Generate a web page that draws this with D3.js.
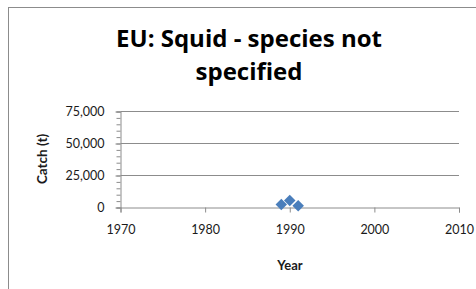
<!DOCTYPE html>
<html>
<head>
<meta charset="utf-8">
<script src="https://cdn.jsdelivr.net/npm/d3@7"></script>
<style>
  body { margin: 0; background: #fff; }
  svg { display: block; }
  text { font-family: Lato, "Open Sans", sans-serif; fill: #1a1a1a; }
  text.title { font-family: "Open Sans", sans-serif; fill: #000; }
</style>
</head>
<body>
<svg id="chart" width="476" height="289"></svg>
<script>
// Chart data
const years = [1989, 1990, 1991];
const catchValues = [2000, 5000, 1000];
const xTicks = [1970, 1980, 1990, 2000, 2010];
const yTicks = [0, 25000, 50000, 75000];
const titleLines = ["EU: Squid - species not", "specified"];

const svg = d3.select("#chart");

// outer frame (runs off the right and bottom edges)
svg.append("rect")
    .attr("x", 8.5).attr("y", 7.5)
    .attr("width", 500).attr("height", 300)
    .attr("fill", "none")
    .attr("stroke", "#8c8c8c")
    .attr("stroke-width", 1);

const x = d3.scaleLinear().domain([1970, 2010]).range([120.5, 459]);
const y = d3.scaleLinear().domain([0, 75000]).range([207, 111]);

// horizontal gridlines
svg.append("g")
    .selectAll("line")
    .data(yTicks.filter(d => d > 0))
    .join("line")
    .attr("x1", x(1970)).attr("x2", x(2010))
    .attr("y1", d => Math.round(y(d)) + 0.5)
    .attr("y2", d => Math.round(y(d)) + 0.5)
    .attr("stroke", "#8c8c8c");

// y axis with minor ticks
const yMinor = d3.range(0, 75001, 5000);
svg.append("g")
    .attr("transform", `translate(${x(1970)},0.5)`)
    .call(d3.axisLeft(y).tickValues(yMinor).tickSize(4).tickFormat(""))
    .call(g => g.select(".domain").attr("stroke", "#8c8c8c"))
    .call(g => g.selectAll(".tick line").attr("stroke", "#8c8c8c"));

svg.append("g")
    .attr("transform", `translate(${x(1970)},0.5)`)
    .call(d3.axisLeft(y).tickValues(yTicks).tickSize(5).tickPadding(11)
        .tickFormat(d3.format(",")))
    .call(g => g.select(".domain").remove())
    .call(g => g.selectAll(".tick line").attr("stroke", "#8c8c8c"))
    .call(g => g.selectAll(".tick text").attr("font-size", 12.5).style("fill", "#1a1a1a"));

// x axis
svg.append("g")
    .attr("transform", `translate(0,${Math.round(y(0)) + 0.5})`)
    .call(d3.axisBottom(x).tickValues(xTicks).tickSize(5).tickPadding(13)
        .tickFormat(d3.format("d")))
    .call(g => g.select(".domain").attr("stroke", "#8c8c8c"))
    .call(g => g.selectAll(".tick line").attr("stroke", "#8c8c8c"))
    .call(g => g.selectAll(".tick text").attr("font-size", 12.5).style("fill", "#1a1a1a"));

// data points (diamonds)
const diamond = d3.symbol().type(d3.symbolDiamond2).size(84);
svg.append("g")
    .selectAll("path")
    .data(years.map((yr, i) => ({ yr, v: catchValues[i] })))
    .join("path")
    .attr("d", diamond)
    .attr("transform", d => `translate(${x(d.yr)},${y(d.v)})`)
    .attr("fill", "#4a7ebb");

// title
svg.append("g")
    .selectAll("text")
    .data(titleLines)
    .join("text")
    .attr("class", "title")
    .attr("x", 249)
    .attr("y", (d, i) => 47 + i * 33)
    .attr("text-anchor", "middle")
    .attr("font-size", 24)
    .attr("font-weight", "bold")
    .text(d => d);

// axis titles
svg.append("text")
    .attr("x", 290).attr("y", 270)
    .attr("text-anchor", "middle")
    .attr("font-size", 13)
    .attr("font-weight", "bold")
    .text("Year");

svg.append("text")
    .attr("transform", "translate(47,159) rotate(-90)")
    .attr("text-anchor", "middle")
    .attr("font-size", 13.5)
    .attr("font-weight", "bold")
    .text("Catch (t)");
</script>
</body>
</html>
